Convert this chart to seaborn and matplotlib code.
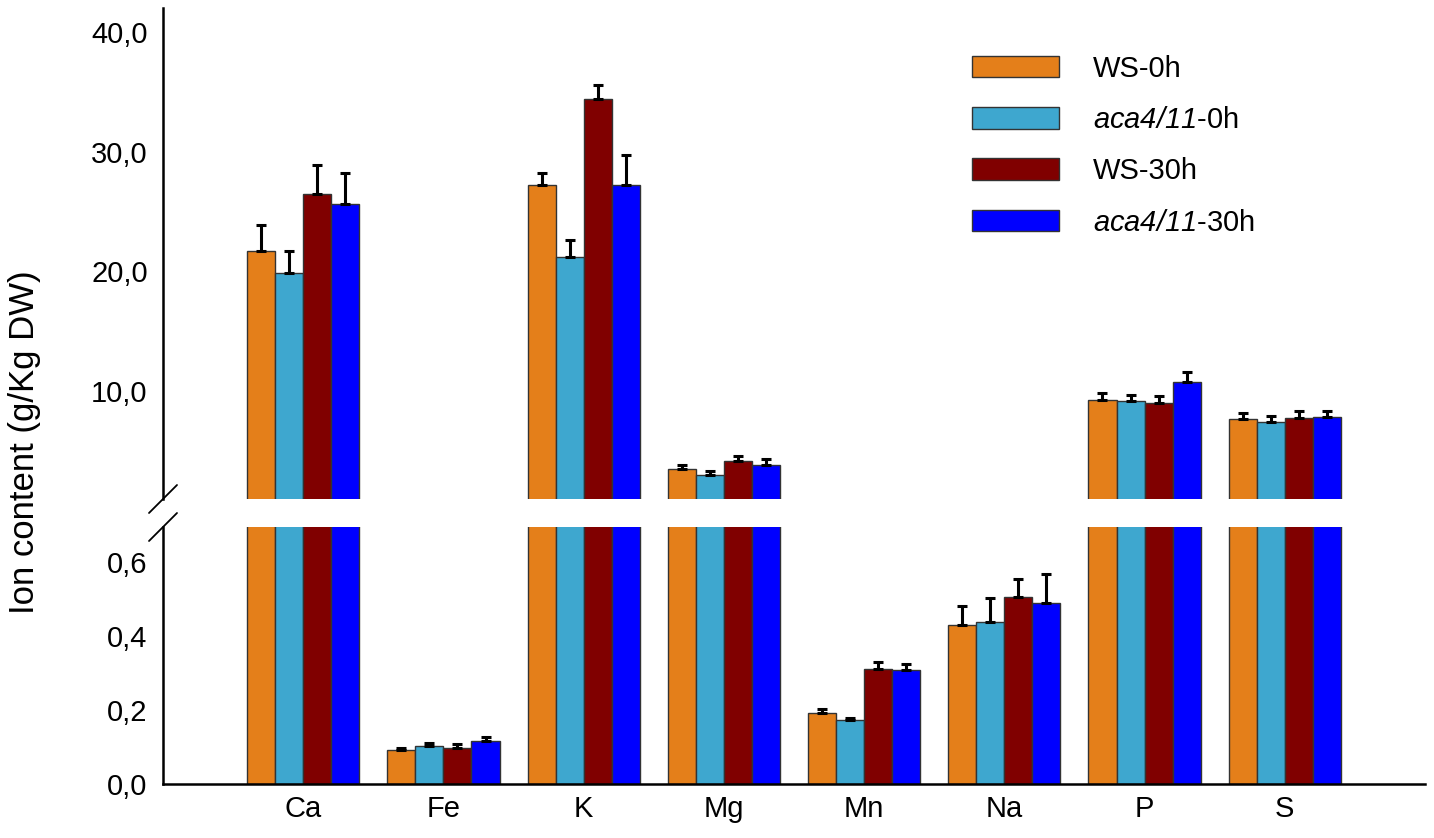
import numpy as np
import pandas as pd
import matplotlib
matplotlib.use('Agg')
import matplotlib.pyplot as plt
import seaborn as sns
from matplotlib.ticker import FuncFormatter

ions = ['Ca', 'Fe', 'K', 'Mg', 'Mn', 'Na', 'P', 'S']
groups = ['WS-0h', 'aca4/11-0h', 'WS-30h', 'aca4/11-30h']
group_labels = ['WS-0h', r'$aca4/11$-0h', 'WS-30h', r'$aca4/11$-30h']
colors = ['#E47F1A', '#3EA7CF', '#800000', '#0000FF']

ws_0h = [21.67, 0.091, 27.2, 3.47, 0.193, 0.430, 9.30, 7.72]
aca_0h = [19.9, 0.103, 21.2, 3.03, 0.173, 0.439, 9.20, 7.47]
ws_30h = [26.5, 0.097, 34.4, 4.19, 0.311, 0.505, 9.05, 7.80]
aca_30h = [25.6, 0.116, 27.25, 3.86, 0.307, 0.489, 10.8, 7.83]

ws_0h_err = [2.2, 0.006, 1.0, 0.33, 0.010, 0.051, 0.56, 0.47]
aca_0h_err = [1.8, 0.009, 1.4, 0.33, 0.006, 0.064, 0.50, 0.45]
ws_30h_err = [2.4, 0.010, 1.2, 0.39, 0.019, 0.049, 0.59, 0.53]
aca_30h_err = [2.65, 0.011, 2.5, 0.44, 0.017, 0.078, 0.80, 0.56]

means = [ws_0h, aca_0h, ws_30h, aca_30h]
errs = [ws_0h_err, aca_0h_err, ws_30h_err, aca_30h_err]

rows = []
for g, vals in zip(groups, means):
    for ion, v in zip(ions, vals):
        rows.append({'ion': ion, 'group': g, 'value': v})
df = pd.DataFrame(rows)

sns.set_style('white')
plt.rcParams['font.family'] = ['Liberation Sans', 'DejaVu Sans']
plt.rcParams['mathtext.fontset'] = 'custom'
plt.rcParams['mathtext.it'] = 'Liberation Sans:italic'
plt.rcParams['mathtext.rm'] = 'Liberation Sans:italic'
plt.rcParams['text.color'] = 'black'
plt.rcParams['axes.edgecolor'] = 'black'
plt.rcParams['xtick.color'] = 'black'
plt.rcParams['ytick.color'] = 'black'

W, H = 1434, 838
fig = plt.figure(figsize=(W / 100, H / 100), dpi=100)
left, right = 163 / W, 1425 / W
ax_top = fig.add_axes([left, 1 - 499 / H, right - left, (499 - 8) / H])
ax_bot = fig.add_axes([left, 1 - 784 / H, right - left, (784 - 527) / H])

spine_w = 1.8
fs = 21
fmt = FuncFormatter(lambda v, p: f'{v:.1f}'.replace('.', ','))
for ax in (ax_top, ax_bot):
    sns.barplot(data=df, x='ion', y='value', hue='group', hue_order=groups,
                order=ions, palette=colors, edgecolor='#333333', linewidth=1.0,
                errorbar=None, ax=ax, legend=(ax is ax_top), saturation=1)
    # upward-only error bars at each bar centre
    for cont, err in zip(ax.containers, errs):
        xs = [p.get_x() + p.get_width() / 2 for p in cont.patches]
        ys = [p.get_height() for p in cont.patches]
        ax.errorbar(xs, ys, yerr=[np.zeros(len(err)), err], fmt='none',
                    ecolor='black', elinewidth=2.2, capsize=3.8, capthick=2.2, zorder=3)
    ax.set_xlim(-1, 8)
    ax.set_xlabel('')
    ax.set_ylabel('')
    ax.spines['right'].set_visible(False)
    ax.spines['left'].set_linewidth(spine_w)
    ax.spines['bottom'].set_linewidth(spine_w)
    ax.tick_params(axis='y', direction='in', length=8.5, width=spine_w,
                   labelsize=fs, pad=11)
    ax.tick_params(axis='x', length=0, labelsize=fs, pad=8)
    ax.yaxis.set_major_formatter(fmt)

ax_top.set_ylim(1.0, 42)
ax_top.set_yticks([10, 20, 30, 40])
ax_top.yaxis.set_major_formatter(fmt)
ax_top.spines['top'].set_visible(False)
ax_top.spines['bottom'].set_visible(False)
ax_top.set_xticks([])

ax_bot.set_ylim(0, 0.695)
ax_bot.set_yticks([0, 0.2, 0.4, 0.6])
ax_bot.yaxis.set_major_formatter(fmt)
ax_bot.spines['top'].set_visible(False)

# legend
handles, _ = ax_top.get_legend_handles_labels()
leg = ax_top.legend(handles, group_labels, loc='upper left',
                    bbox_to_anchor=(0.641, 0.905), frameon=False, fontsize=fs,
                    handlelength=3.0, handleheight=0.76, labelspacing=0.8,
                    handletextpad=1.14, borderpad=0, borderaxespad=0)

# break marks
def slash(ax, ypos, hpx):
    dx = 14 / (right - left) / W
    dy = 14 / hpx
    ax.plot([-dx, dx], [ypos - dy, ypos + dy], transform=ax.transAxes,
            color='black', lw=1.3, clip_on=False)

slash(ax_top, 0, 499 - 8)
slash(ax_bot, 1, 784 - 527)

fig.text(25 / W, 1 - 442 / H, 'Ion content (g/Kg DW)', rotation=90,
         ha='center', va='center', fontsize=25)

fig.savefig('out.png', dpi=100)
